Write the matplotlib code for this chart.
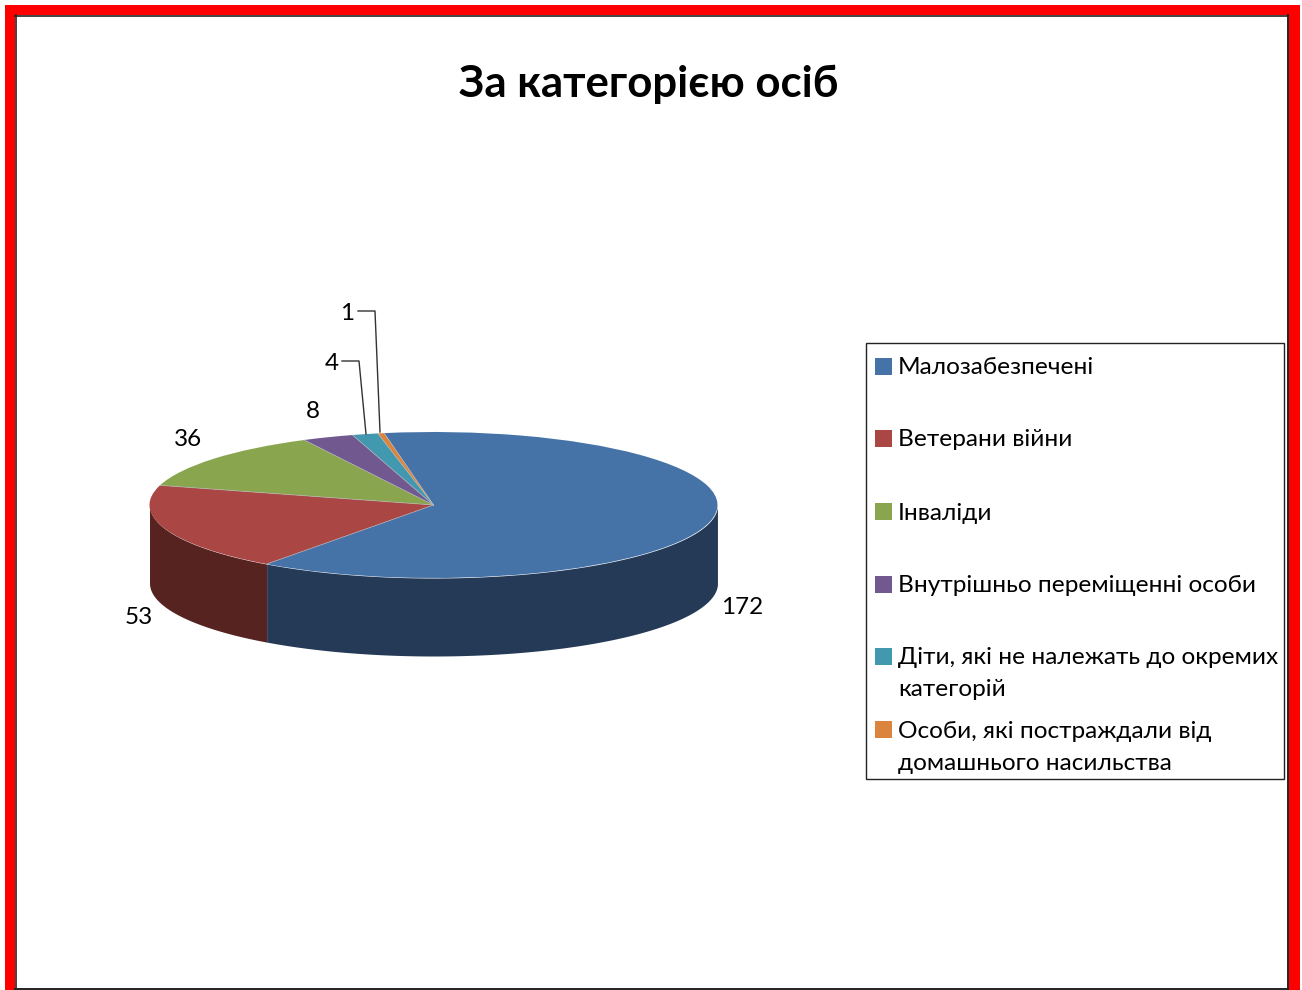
import numpy as np
import matplotlib
matplotlib.use('Agg')
import matplotlib.pyplot as plt
from matplotlib.patches import Rectangle

plt.rcParams['font.family'] = ['Lato', 'Open Sans', 'DejaVu Sans']

title = 'За категорією осіб'
categories = ['Малозабезпечені', 'Ветерани війни', 'Інваліди',
              'Внутрішньо переміщенні особи',
              'Діти, які не належать до окремих\nкатегорій',
              'Особи, які постраждали від\nдомашнього насильства']
values = [172, 53, 36, 8, 4, 1]
colors = ['#4572A7', '#AA4643', '#89A54E', '#71588F', '#4198AF', '#DB843D']
side_colors = ['#243A57', '#562320', '#46552A', '#3A2D4A', '#224F5B', '#70441F']

W, H = 1302, 990
fig = plt.figure(figsize=(W / 100, H / 100), dpi=100, facecolor='white')

# overlay in pixel coords for frame, legend and labels
ov = fig.add_axes([0, 0, 1, 1], zorder=3)
ov.set_xlim(0, W)
ov.set_ylim(H, 0)
ov.axis('off')
ov.patch.set_alpha(0)

# pie axes, one data unit = the ellipse radii
cx, cy, rx, ry, depth = 433.5, 505, 284, 73, 78
xl = (-1.1, 1.1)
yl = (-2.3, 1.1)
left = cx + xl[0] * rx
bottom = (H - cy) + yl[0] * ry
ax = fig.add_axes([left / W, bottom / H, (xl[1] - xl[0]) * rx / W, (yl[1] - yl[0]) * ry / H], zorder=2)

start = 100  # deg, counterclockwise from +x
ax.pie(values, colors=colors, startangle=start, counterclock=False,
       wedgeprops={'linewidth': 0, 'zorder': 3})
ax.set_aspect('auto')
ax.set_xlim(*xl)
ax.set_ylim(*yl)
ax.axis('off')

# side wall of the disc, only the front half shows
d = depth / ry
edges = start - np.cumsum([0] + values) / np.sum(values) * 360
for i in range(len(values)):
    a = np.linspace(edges[i], edges[i + 1], 200)
    a = a[np.sin(np.radians(a)) <= 0]
    if len(a) < 2:
        continue
    x = np.cos(np.radians(a))
    y = np.sin(np.radians(a))
    ax.fill_between(x, y - d, y, color=side_colors[i], linewidth=0, zorder=1)

# faint seams between the slices
for e in edges[:-1]:
    ax.plot([0, np.cos(np.radians(e))], [0, np.sin(np.radians(e))], color='#b5b8bd', lw=0.6, alpha=0.7, zorder=4)

# value labels
label_pos = [(742, 606), (139, 616), (188, 437), (313, 410), (332, 361), (347, 311)]
for v, (lx, ly) in zip(values, label_pos):
    ov.text(lx, ly + 2, str(v), fontsize=17.5, ha='center', va='center', color='black')

# leader lines for the small slices
ov.plot([358, 375, 380], [311, 311, 432], color='#333333', lw=1)
ov.plot([342, 359, 366], [361, 361, 434], color='#333333', lw=1)

# legend
ov.add_patch(Rectangle((866, 343), 418, 435.5, fc='white', ec='#222222', lw=1))
rows = [366, 438, 511, 584, 656, 729]
for name, col, y in zip(categories, colors, rows):
    ov.add_patch(Rectangle((875, y - 8.5), 17, 17, fc=col, ec='none'))
    for j, line in enumerate(name.split('\n')):
        ov.text(898, y + 2 + j * 32, line, fontsize=17.6, ha='left', va='center', color='black')

ov.text(649, 84, title, fontsize=31.5, fontweight='bold', ha='center', va='center', color='black')

# red frame with thin black inner line
ov.add_patch(Rectangle((5, 5), 10, H, fc='#FF0000', ec='none', clip_on=False))
ov.add_patch(Rectangle((1289, 5), 11, H, fc='#FF0000', ec='none', clip_on=False))
ov.add_patch(Rectangle((5, 5), 1295, 10, fc='#FF0000', ec='none'))
ov.plot([15.5, 15.5], [15, H], color='#222222', lw=1.2)
ov.plot([15, 1288], [15.5, 15.5], color='#222222', lw=1.2)
ov.plot([1287.5, 1287.5], [15, H], color='#222222', lw=1.4)
ov.plot([15, 1288], [989, 989], color='#222222', lw=1.4)

fig.savefig('out.png', dpi=100)
